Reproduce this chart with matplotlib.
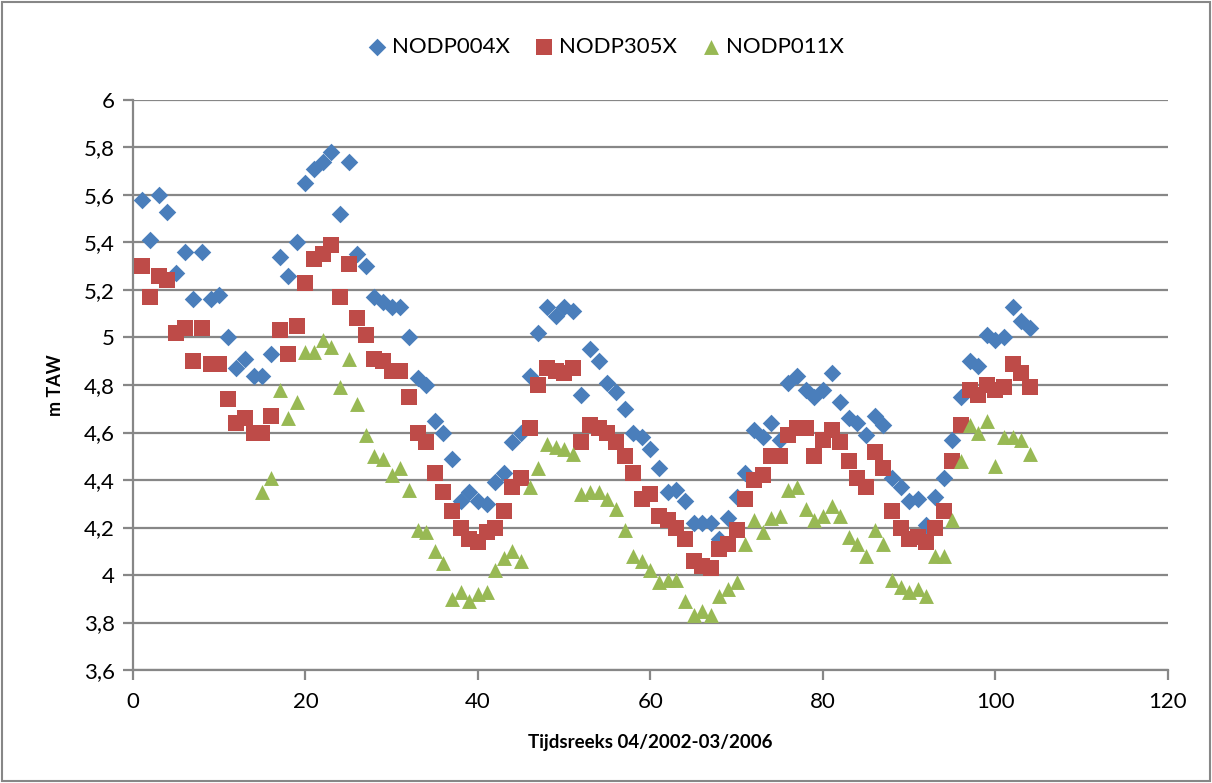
import numpy as np
import matplotlib
matplotlib.use("Agg")
from matplotlib import pyplot as plt
from matplotlib.ticker import FuncFormatter

# grondwaterstanden (m TAW) per meting, index 1..104
nodp004x = [5.58, 5.41, 5.60, 5.53, 5.27, 5.36, 5.16, 5.36, 5.16, 5.18,
            5.00, 4.87, 4.91, 4.84, 4.84, 4.93, 5.34, 5.26, 5.40, 5.65,
            5.71, 5.74, 5.78, 5.52, 5.74, 5.35, 5.30, 5.17, 5.15, 5.13,
            5.13, 5.00, 4.83, 4.80, 4.65, 4.60, 4.49, 4.31, 4.35, 4.31,
            4.30, 4.39, 4.43, 4.56, 4.60, 4.84, 5.02, 5.13, 5.09, 5.13,
            5.11, 4.76, 4.95, 4.90, 4.81, 4.77, 4.70, 4.60, 4.58, 4.53,
            4.45, 4.35, 4.36, 4.31, 4.22, 4.22, 4.22, 4.15, 4.24, 4.33,
            4.43, 4.61, 4.58, 4.64, 4.57, 4.81, 4.84, 4.78, 4.75, 4.78,
            4.85, 4.73, 4.66, 4.64, 4.59, 4.67, 4.63, 4.41, 4.37, 4.31,
            4.32, 4.21, 4.33, 4.41, 4.57, 4.75, 4.90, 4.88, 5.01, 4.99,
            5.00, 5.13, 5.07, 5.04]

nodp305x = [5.30, 5.17, 5.26, 5.24, 5.02, 5.04, 4.90, 5.04, 4.89, 4.89,
            4.74, 4.64, 4.66, 4.60, 4.60, 4.67, 5.03, 4.93, 5.05, 5.23,
            5.33, 5.35, 5.39, 5.17, 5.31, 5.08, 5.01, 4.91, 4.90, 4.86,
            4.86, 4.75, 4.60, 4.56, 4.43, 4.35, 4.27, 4.20, 4.15, 4.14,
            4.18, 4.20, 4.27, 4.37, 4.41, 4.62, 4.80, 4.87, 4.86, 4.85,
            4.87, 4.56, 4.63, 4.62, 4.60, 4.56, 4.50, 4.43, 4.32, 4.34,
            4.25, 4.23, 4.20, 4.15, 4.06, 4.04, 4.03, 4.11, 4.13, 4.19,
            4.32, 4.40, 4.42, 4.50, 4.50, 4.59, 4.62, 4.62, 4.50, 4.57,
            4.61, 4.56, 4.48, 4.41, 4.37, 4.52, 4.45, 4.27, 4.20, 4.15,
            4.16, 4.14, 4.20, 4.27, 4.48, 4.63, 4.78, 4.76, 4.80, 4.78,
            4.79, 4.89, 4.85, 4.79]

# NODP011X heeft pas metingen vanaf index 15
nodp011x = [np.nan] * 14 + [
            4.35, 4.41, 4.78, 4.66, 4.73, 4.94,
            4.94, 4.99, 4.96, 4.79, 4.91, 4.72, 4.59, 4.50, 4.49, 4.42,
            4.45, 4.36, 4.19, 4.18, 4.10, 4.05, 3.90, 3.93, 3.89, 3.92,
            3.93, 4.02, 4.07, 4.10, 4.06, 4.37, 4.45, 4.55, 4.54, 4.53,
            4.51, 4.34, 4.35, 4.35, 4.32, 4.28, 4.19, 4.08, 4.06, 4.02,
            3.97, 3.98, 3.98, 3.89, 3.83, 3.85, 3.83, 3.91, 3.94, 3.97,
            4.13, 4.23, 4.18, 4.24, 4.25, 4.36, 4.37, 4.28, 4.23, 4.25,
            4.29, 4.25, 4.16, 4.13, 4.08, 4.19, 4.13, 3.98, 3.95, 3.93,
            3.94, 3.91, 4.08, 4.08, 4.23, 4.48, 4.63, 4.60, 4.65, 4.46,
            4.58, 4.58, 4.57, 4.51]

x = np.arange(1, len(nodp004x) + 1)

plt.rcParams['font.family'] = ['Lato', 'DejaVu Sans']

fig = plt.figure(figsize=(12.12, 7.83), dpi=100)
ax = fig.add_axes([0.1097, 0.1443, 0.854, 0.728])

grid_col = '#878787'
ax.scatter(x, nodp004x, marker='D', s=80, color='#4A7EBB', label='NODP004X', zorder=3, linewidths=0)
ax.scatter(x, nodp305x, marker='s', s=140, color='#BE4B48', label='NODP305X', zorder=3, linewidths=0)
ax.scatter(x, nodp011x, marker='^', s=115, color='#98B954', label='NODP011X', zorder=3, linewidths=0)

ax.set_xlim(0, 120)
ax.set_ylim(3.6, 6.0)
ax.set_xticks(np.arange(0, 121, 20))
ax.set_yticks(np.arange(3.6, 6.01, 0.2))
ax.yaxis.set_major_formatter(FuncFormatter(lambda v, p: ('%g' % round(v, 1)).replace('.', ',')))
ax.grid(axis='y', color=grid_col, linewidth=1.6)
ax.set_axisbelow(True)

for side in ['top', 'right']:
    ax.spines[side].set_visible(False)
for side in ['left', 'bottom']:
    ax.spines[side].set_color(grid_col)
    ax.spines[side].set_linewidth(1.6)
ax.tick_params(axis='both', colors=grid_col, length=7, width=1.6, labelsize=16, labelcolor='black')
ax.tick_params(axis='x', pad=9)
ax.tick_params(axis='y', pad=6)

ax.set_xlabel('Tijdsreeks 04/2002-03/2006', fontsize=13.5, fontweight='bold', labelpad=16)
ax.set_ylabel('m TAW', fontsize=13, fontweight='bold', labelpad=14)

leg = fig.legend(loc='center', bbox_to_anchor=(0.5, 0.94), ncol=3, frameon=False,
                 fontsize=16, handlelength=0.8, handletextpad=0.25, columnspacing=1.15)

# rand rond het hele diagram
fig.patches.append(plt.Rectangle((0.002, 0.002), 0.996, 0.996, transform=fig.transFigure,
                                 fill=False, edgecolor='#878787', linewidth=1.5))

fig.savefig('out.png', dpi=100)
